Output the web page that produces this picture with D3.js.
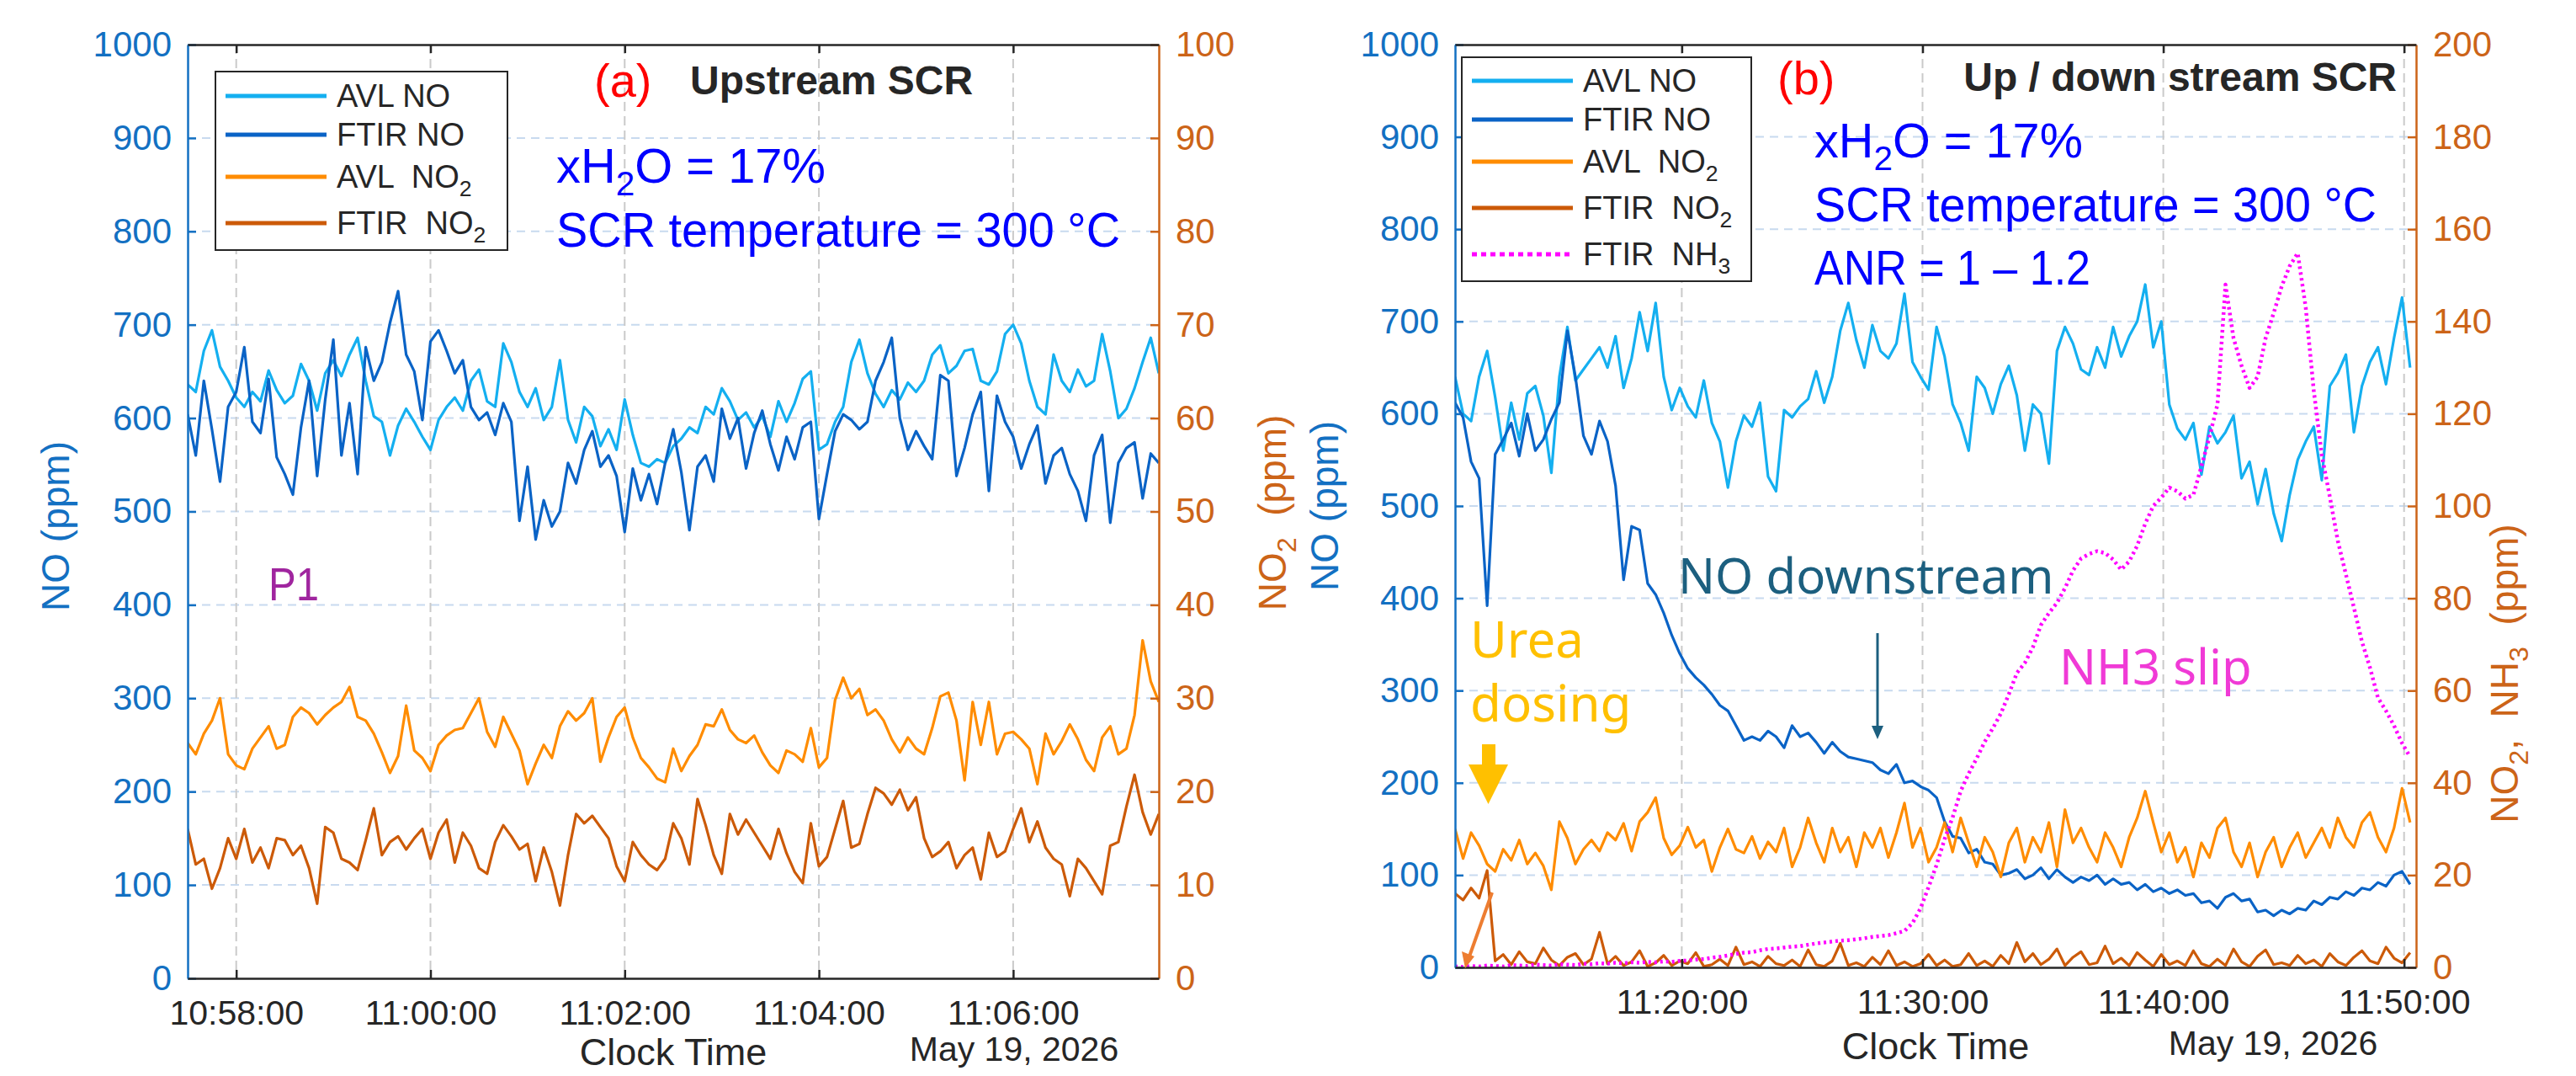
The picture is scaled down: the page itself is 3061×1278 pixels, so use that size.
<!DOCTYPE html>
<html>
<head>
<meta charset="utf-8">
<script src="https://cdnjs.cloudflare.com/ajax/libs/d3/7.8.5/d3.min.js"></script>
<style>
body { margin: 0; background: #fff; }
svg { display: block; font-family: "Liberation Sans", Arial, sans-serif; }
</style>
</head>
<body>
<div id="chart"></div>
<script>
// ---------- data ----------
// panel (a): one sample every 5 s from 10:57:30
var avlNoA = [636,628,672,694,655,640,622,612,628,618, 651,630,616,624,658,640,608,648,662,645,
  668,686,640,602,596,560,592,610,596,580, 566,598,612,622,608,640,652,618,612,680,
  660,628,612,632,598,612,662,598,574,612, 602,570,588,566,620,582,552,548,556,552,
  570,578,590,584,612,604,632,618,598,606, 590,602,580,618,596,616,642,650,566,572,
  596,612,660,684,648,626,612,630,620,638, 628,640,668,678,648,656,672,674,640,636,
  650,690,700,680,640,612,604,668,640,628, 652,634,640,690,650,600,610,632,660,686, 648];
var ftirNoA = [604,560,640,588,532,612,628,676,596,584, 642,558,540,518,590,640,538,620,684,560,
  616,540,676,640,660,702,736,668,650,598, 682,694,672,648,662,612,598,606,582,616,
  596,490,548,470,512,484,500,552,530,566, 586,548,560,538,478,546,512,540,508,552,
  588,542,480,548,560,532,610,578,600,546, 584,608,572,544,580,556,590,596,492,540,
  586,604,598,588,596,640,660,686,600,566, 586,570,556,646,640,538,568,604,628,522,
  624,596,580,546,572,592,530,560,568,540, 522,490,560,582,488,552,568,574,514,562, 552];
var avlNo2A = [25.2,24.0,26.2,27.6,30.0,24.0,22.8,22.4,24.6,25.8, 27.0,24.6,25.0,28.0,29.0,28.4,27.2,28.2,29.0,29.6,
  31.2,28.0,27.6,26.2,24.2,22.0,23.8,29.2,24.4,23.6, 22.2,25.0,26.0,26.6,26.8,28.4,30.0,26.4,24.8,28.0,
  26.2,24.4,20.8,23.0,25.0,23.6,27.0,28.6,27.6,28.4, 30.0,23.2,25.8,28.0,29.0,25.8,23.6,22.6,21.4,21.0,
  24.6,22.2,23.8,25.0,27.2,27.0,28.8,26.6,25.6,25.2, 26.0,24.2,22.8,22.0,24.4,24.0,23.2,26.8,22.6,23.6,
  29.8,32.2,30.0,31.0,28.2,28.8,27.6,25.6,24.2,25.8, 24.6,24.0,26.8,30.2,30.6,27.6,21.2,29.6,25.0,29.6,
  24.0,26.2,26.4,25.6,24.6,20.8,26.2,24.0,25.4,27.2, 25.6,23.4,22.2,25.8,27.0,24.0,24.6,28.2,36.2,31.8, 29.6];
var ftirNo2A = [16.0,12.2,12.8,9.6,11.8,15.0,12.8,16.0,12.4,14.0, 11.8,15.0,14.8,13.2,14.2,11.8,8.0,16.2,15.6,12.8,
  12.4,11.6,14.8,18.2,13.2,14.6,15.2,13.8,15.0,16.0, 12.8,15.6,17.0,12.4,15.6,14.2,11.8,11.2,14.6,16.4,
  15.2,13.8,14.4,10.4,14.0,11.4,7.8,13.2,17.6,16.6, 17.4,16.2,15.0,12.0,10.4,14.6,13.2,12.2,11.6,12.8,
  16.6,15.0,12.2,19.2,16.4,13.2,11.2,17.6,15.4,17.0, 15.6,14.2,12.8,16.0,13.4,11.4,10.2,16.6,12.0,13.0,
  16.0,19.0,14.0,14.4,17.6,20.4,19.8,18.6,20.2,18.0, 19.4,15.0,13.0,13.6,14.6,11.8,13.2,14.0,10.6,15.6,
  13.0,13.6,16.0,18.2,14.6,16.8,14.0,12.8,12.2,8.8, 12.8,11.8,10.4,9.0,14.2,14.6,18.4,21.8,17.8,15.4, 17.6];

// panel (b): one sample every 20 s from 11:10:35
var avlNoB = [640,600,592,640,668,618,560,612,572,622, 630,598,536,640,694,636,648,660,672,650,
  684,628,660,710,668,720,640,604,628,608, 596,636,590,570,520,570,598,586,612,532,
  516,604,596,608,616,646,612,640,690,720, 680,650,696,668,660,676,730,656,640,626,
  694,662,610,590,560,640,628,600,632,652, 620,560,610,600,546,668,694,676,648,642,
  672,650,694,662,684,700,740,672,700,610, 584,572,590,534,586,568,580,598,530,548,
  502,540,492,462,512,550,570,586,528,630, 644,664,580,630,656,672,632,682,726,650];
var ftirNoB = [612,596,548,530,392,556,572,590,554,600, 560,572,594,612,690,640,576,556,592,570,
  522,420,478,474,416,404,384,360,340,324, 314,306,296,284,278,262,246,250,246,256,
  250,238,262,250,254,244,232,244,234,228, 226,224,222,214,210,220,200,202,196,192,
  184,158,142,140,124,128,114,112,100,102, 106,96,100,108,96,106,98,92,98,94,
  100,90,96,90,92,84,90,82,86,80, 84,78,80,70,72,64,76,80,72,74,
  60,62,56,62,58,64,62,72,68,76, 74,82,78,86,84,92,88,100,104,90];
var avlNo2B = [30.0,23.6,29.2,26.4,22.4,20.8,25.6,23.2,27.6,22.4, 24.8,22.0,16.8,31.6,28.0,22.4,25.6,27.6,25.2,29.2,
  27.6,31.2,25.2,31.6,33.6,36.8,28.0,24.4,26.4,30.4, 26.0,27.6,20.8,26.0,30.0,25.6,24.8,28.4,23.6,27.2,
  25.0,30.2,21.8,26.0,32.4,27.0,22.8,30.2,25.0,28.2, 21.8,29.2,26.0,30.2,23.8,29.2,35.6,26.0,30.2,22.8,
  26.0,31.4,25.0,32.4,27.0,21.8,28.2,25.0,19.6,27.0, 30.2,22.8,28.2,25.0,31.4,21.8,34.2,27.0,30.2,26.0,
  22.8,29.2,26.0,21.8,28.2,32.4,38.2,31.4,25.0,29.2, 22.8,26.0,19.6,27.0,23.8,30.2,32.4,25.0,21.8,27.0,
  19.6,25.0,28.2,21.8,26.0,29.2,23.8,27.0,30.2,26.0, 32.4,28.2,26.0,31.4,33.6,28.2,25.0,30.2,38.8,31.4];
var ftirNo2B = [16.0,14.6,17.2,15.0,21.0,1.4,2.8,0.6,3.4,1.2, 0.8,4.2,1.6,0.4,2.2,3.0,0.6,1.8,7.6,0.8,
  2.4,0.4,1.2,3.6,0.2,1.0,2.6,0.4,1.4,0.8, 3.2,0.2,0.6,1.8,0.4,4.4,0.6,1.2,0.2,2.4,
  0.8,0.4,1.6,0.2,3.8,0.6,0.2,1.4,5.2,0.4, 1.0,0.2,2.2,0.6,3.6,0.4,1.2,0.2,0.8,2.8,
  0.4,1.6,0.2,0.6,3.0,0.4,1.4,0.2,2.6,0.8, 5.4,1.2,3.0,0.6,1.8,4.0,0.4,2.2,3.4,0.6,
  1.0,4.6,0.8,2.0,0.4,3.2,1.6,0.2,2.8,0.6, 1.4,0.4,3.6,0.8,0.2,1.8,0.4,4.0,1.2,0.2,
  2.4,3.8,0.6,1.0,0.4,2.6,0.8,1.6,0.2,3.0, 1.2,0.4,2.2,3.6,1.4,0.8,4.4,2.0,1.0,3.2];
var nh3B = [0.2,0.1,0.3,0.2,0.4,0.3,0.2,0.5,0.4,0.3, 0.6,0.5,0.4,0.7,0.6,0.5,0.8,0.7,0.9,0.8,
  1.0,0.9,1.1,1.0,1.2,1.1,1.3,1.2,1.4,1.5, 1.7,1.8,2.1,2.3,2.6,2.9,3.2,3.3,3.7,4.0,
  4.1,4.3,4.5,4.6,4.9,5.2,5.4,5.6,5.8,5.9, 6.1,6.3,6.6,6.8,7.0,7.4,7.9,9.6,12.8,17.4,
  22.2,27.8,32.5,38.2,42.0,45.3,48.9,51.8,55.0,59.2, 63.8,66.0,69.4,74.2,76.8,79.0,82.2,86.0,88.6,89.6,
  90.2,89.8,88.4,86.2,88.0,91.4,96.2,100.0,101.8,104.0, 103.2,101.6,102.4,108.6,115.0,122.0,148.0,136.4,130.4,125.6,
  128.0,136.4,141.8,147.6,152.0,154.8,143.0,125.0,111.0,102.0, 92.4,85.2,78.0,70.6,65.0,58.4,55.6,52.4,48.6,45.6];

var namesA = ["AVL NO", "FTIR NO", "AVL  NO_{2}", "FTIR  NO_{2}"];
var namesB = ["AVL NO", "FTIR NO", "AVL  NO_{2}", "FTIR  NO_{2}", "FTIR  NH_{3}"];

// ---------- styling ----------
var W = 3061, H = 1278;
var blueAx = "#1370c2", orangeAx = "#cc6418", dark = "#262626";
var colors = ["#14aff0", "#0a63c6", "#ff8c00", "#cc5a08", "#ff00ff"];

function times(h, m, s, step, n) {
  return d3.range(n).map(function(i) { return new Date(2026, 4, 19, h, m, s + i * step); });
}
var timeA = times(10, 57, 30, 5, avlNoA.length);
var timeB = times(11, 10, 35, 20, avlNoB.length);

var svg = d3.select("#chart").append("svg")
    .attr("width", W)
    .attr("height", H);

// text with _{sub} parts
function rich(sel, str, fs) {
  var parts = str.split(/(_\{[^}]*\})/), shift = 0;
  parts.forEach(function(p) {
    if (!p) return;
    if (p[0] === "_") {
      sel.append("tspan").attr("dy", fs * 0.26).attr("font-size", fs * 0.7).text(p.slice(2, -1));
      shift = fs * 0.26;
    } else {
      sel.append("tspan").attr("dy", -shift).text(p);
      shift = 0;
    }
  });
  return sel;
}

function drawPanel(p) {
  var x = d3.scaleTime().domain(p.domain).range([p.left, p.right]);
  var yL = d3.scaleLinear().domain([0, 1000]).range([p.bottom, p.top]);
  var yR = d3.scaleLinear().domain([0, p.rMax]).range([p.bottom, p.top]);
  var g = svg.append("g");

  // grid
  g.selectAll(".hg").data(yL.ticks(10).filter(function(d) { return d > 0 && d < 1000; }))
    .enter().append("line")
    .attr("x1", p.left).attr("x2", p.right)
    .attr("y1", yL).attr("y2", yL)
    .attr("stroke", "#c8daef").attr("stroke-width", 2).attr("stroke-dasharray", "10 7");
  g.selectAll(".vg").data(x.ticks(p.every))
    .enter().append("line")
    .attr("x1", x).attr("x2", x)
    .attr("y1", p.top).attr("y2", p.bottom)
    .attr("stroke", "#cacaca").attr("stroke-width", 2).attr("stroke-dasharray", "11 6");

  // data
  svg.append("clipPath").attr("id", p.id).append("rect")
    .attr("x", p.left).attr("y", p.top)
    .attr("width", p.right - p.left).attr("height", p.bottom - p.top);
  var plot = g.append("g").attr("clip-path", "url(#" + p.id + ")");
  p.series.forEach(function(s, k) {
    var y = s.axis === "L" ? yL : yR;
    var line = d3.line()
      .x(function(d, i) { return x(p.time[i]); })
      .y(function(d) { return y(d); });
    plot.append("path")
      .datum(s.values)
      .attr("d", line)
      .attr("fill", "none")
      .attr("stroke", colors[k])
      .attr("stroke-width", k === 4 ? 4.5 : 3.2)
      .attr("stroke-dasharray", k === 4 ? "3 4" : null)
      .attr("stroke-linejoin", "round");
  });

  // axes
  var ax = g.append("g");
  var left = ax.append("g").attr("transform", "translate(" + p.left + ",0)")
    .call(d3.axisLeft(yL).ticks(10, "d").tickSize(-10).tickSizeOuter(0).tickPadding(19));
  left.selectAll("path,line").attr("stroke", blueAx).attr("stroke-width", 2.5);
  left.selectAll("text").attr("fill", blueAx).attr("font-size", 42)
    .attr("font-family", "Liberation Sans, Arial, sans-serif");

  var right = ax.append("g").attr("transform", "translate(" + p.right + ",0)")
    .call(d3.axisRight(yR).ticks(10, "d").tickSize(-10).tickSizeOuter(0).tickPadding(20));
  right.selectAll("path,line").attr("stroke", orangeAx).attr("stroke-width", 2.5);
  right.selectAll("text").attr("fill", orangeAx).attr("font-size", 42)
    .attr("font-family", "Liberation Sans, Arial, sans-serif");

  var top = ax.append("g").attr("transform", "translate(0," + p.top + ")")
    .call(d3.axisTop(x).ticks(p.every).tickSize(-10).tickSizeOuter(0).tickFormat(""));
  top.selectAll("path,line").attr("stroke", dark).attr("stroke-width", 2.5);

  var bottom = ax.append("g").attr("transform", "translate(0," + p.bottom + ")")
    .call(d3.axisBottom(x).ticks(p.every).tickSize(-10).tickSizeOuter(0).tickPadding(26)
      .tickFormat(d3.timeFormat("%H:%M:%S")));
  bottom.selectAll("path,line").attr("stroke", dark).attr("stroke-width", 2.5);
  bottom.selectAll("text").attr("fill", dark).attr("font-size", 41)
    .attr("font-family", "Liberation Sans, Arial, sans-serif");

  // legend
  var lg = g.append("g");
  lg.append("rect")
    .attr("x", p.legend[0]).attr("y", p.legend[1])
    .attr("width", p.legend[2]).attr("height", p.legend[3])
    .attr("fill", "#fff").attr("stroke", dark).attr("stroke-width", 2);
  p.names.forEach(function(n, k) {
    var ly = p.legendRows[k];
    lg.append("line")
      .attr("x1", p.legend[0] + 12).attr("x2", p.legend[0] + 132)
      .attr("y1", ly).attr("y2", ly)
      .attr("stroke", colors[k]).attr("stroke-width", 5)
      .attr("stroke-dasharray", k === 4 ? "6 5" : null);
    rich(lg.append("text")
      .attr("x", p.legend[0] + 144).attr("y", ly + 13)
      .attr("font-size", 38).attr("fill", dark)
      .style("white-space", "pre"), n, 38);
  });

  // axis titles
  g.append("text").attr("x", (p.left + p.right) / 2).attr("y", p.xlabY)
    .attr("text-anchor", "middle").attr("font-size", 45).attr("fill", dark).text("Clock Time");
  g.append("text").attr("x", p.dateX).attr("y", p.xlabY - 5)
    .attr("text-anchor", "middle").attr("font-size", 41).attr("fill", dark).text("May 19, 2026");
}

drawPanel({
  id: "clipA", left: 223, right: 1377, top: 53, bottom: 1162,
  domain: [new Date(2026, 4, 19, 10, 57, 30), new Date(2026, 4, 19, 11, 7, 30)],
  every: d3.timeMinute.every(2), rMax: 100, time: timeA,
  series: [{values: avlNoA, axis: "L"}, {values: ftirNoA, axis: "L"},
           {values: avlNo2A, axis: "R"}, {values: ftirNo2A, axis: "R"}],
  names: namesA, legend: [256, 85, 347, 212], legendRows: [114, 160, 210, 265],
  xlabY: 1265, dateX: 1205
});

drawPanel({
  id: "clipB", left: 1729, right: 2871, top: 53, bottom: 1149,
  domain: [new Date(2026, 4, 19, 11, 10, 35), new Date(2026, 4, 19, 11, 50, 30)],
  every: d3.timeMinute.every(10), rMax: 200, time: timeB,
  series: [{values: avlNoB, axis: "L"}, {values: ftirNoB, axis: "L"},
           {values: avlNo2B, axis: "R"}, {values: ftirNo2B, axis: "R"}, {values: nh3B, axis: "R"}],
  names: namesB, legend: [1737, 68, 344, 266], legendRows: [96, 142, 192, 247, 302],
  xlabY: 1258, dateX: 2701
});

// y axis titles
function yTitle(xp, yp, str, color) {
  rich(svg.append("text")
    .attr("transform", "translate(" + xp + "," + yp + ") rotate(-90)")
    .attr("text-anchor", "middle").attr("font-size", 46).attr("fill", color)
    .style("white-space", "pre"), str, 46);
}
yTitle(82, 625, "NO (ppm)", blueAx);
yTitle(1528, 609, "NO_{2}  (ppm)", orangeAx);
yTitle(1590, 601, "NO (ppm)", blueAx);
yTitle(2992, 800, "NO_{2},  NH_{3}  (ppm)", orangeAx);

// titles and notes
function note(xp, yp, str, size, color, len, extra) {
  var t = svg.append("text").attr("x", xp).attr("y", yp)
    .attr("font-size", size).attr("fill", color).style("white-space", "pre");
  if (len) t.attr("textLength", len).attr("lengthAdjust", "spacingAndGlyphs");
  if (extra) extra(t);
  return rich(t, str, size);
}
note(706, 115, "(a)", 56, "#ff0000");
note(820, 112, "Upstream SCR", 48, dark, null, function(t) { t.attr("font-weight", "bold"); });
note(661, 217, "xH_{2}O = 17%", 58, "#0000ff", 320);
note(661, 293, "SCR temperature = 300 °C", 58, "#0000ff", 670);
note(319, 713, "P1", 56, "#a0259f", 60);

note(2112, 112, "(b)", 56, "#ff0000");
note(2848, 108, "Up / down stream SCR", 48, dark, null, function(t) {
  t.attr("font-weight", "bold").attr("text-anchor", "end");
});
note(2156, 187, "xH_{2}O = 17%", 58, "#0000ff", 319);
note(2156, 263, "SCR temperature = 300 °C", 58, "#0000ff", 668);
note(2156, 338, "ANR = 1 – 1.2", 58, "#0000ff", 328);

var annFont = "Noto Sans, Open Sans, sans-serif";
svg.append("text").attr("x", 1747).attr("y", 781).attr("font-family", annFont)
  .attr("font-size", 60).attr("fill", "#ffc000").text("Urea");
svg.append("text").attr("x", 1747).attr("y", 857).attr("font-family", annFont)
  .attr("font-size", 60).attr("fill", "#ffc000").text("dosing");
svg.append("polygon")
  .attr("points", "1761,884 1777,884 1777,908 1792,908 1768.5,955 1745,908 1761,908")
  .attr("fill", "#ffc000");
svg.append("line").attr("x1", 1773).attr("y1", 1060).attr("x2", 1746).attr("y2", 1136)
  .attr("stroke", "#ed7d31").attr("stroke-width", 4);
svg.append("polygon").attr("points", "1741,1150 1737,1130 1752,1136")
  .attr("fill", "#ed7d31");

svg.append("text").attr("x", 1994).attr("y", 705).attr("font-family", annFont)
  .attr("font-size", 58).attr("fill", "#1c5f7f").text("NO downstream");
svg.append("line").attr("x1", 2231).attr("y1", 752).attr("x2", 2231).attr("y2", 864)
  .attr("stroke", "#1c5f7f").attr("stroke-width", 3);
svg.append("polygon").attr("points", "2224,862 2238,862 2231,878").attr("fill", "#1c5f7f");

svg.append("text").attr("x", 2447).attr("y", 813).attr("font-family", annFont)
  .attr("font-size", 58).attr("fill", "#f03ad6").text("NH3 slip");
</script>
</body>
</html>
